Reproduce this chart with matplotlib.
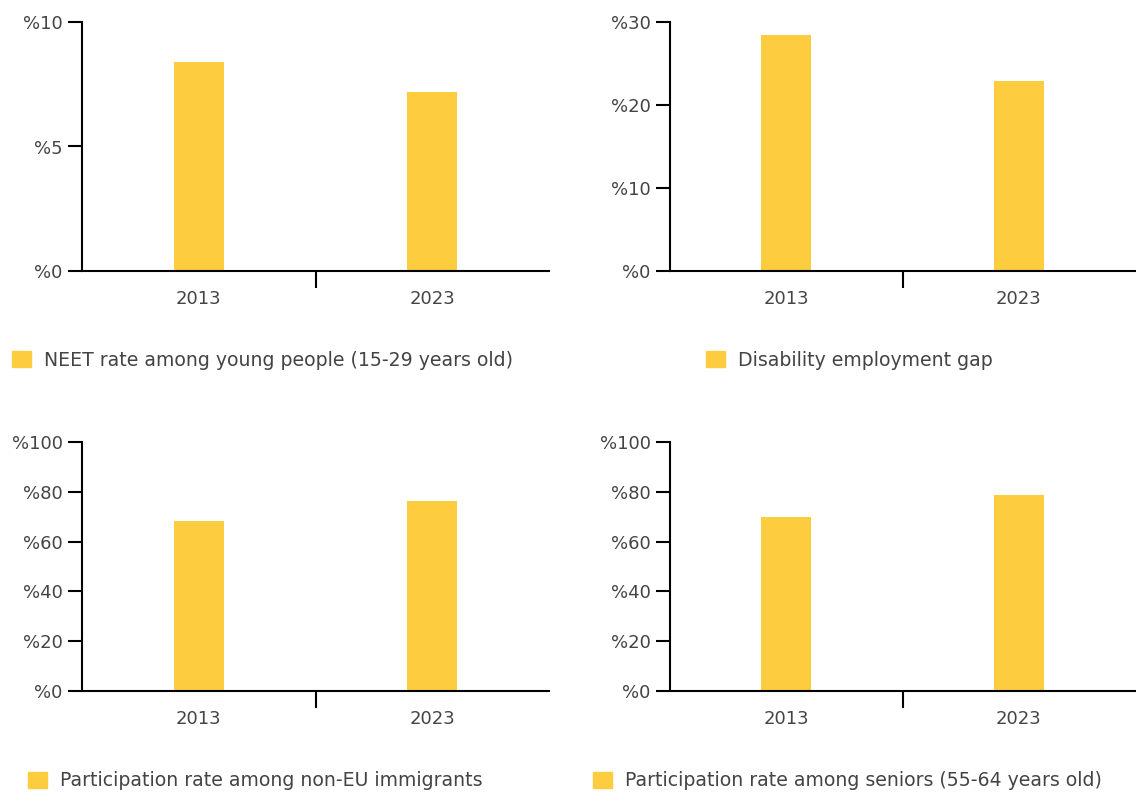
import matplotlib.pyplot as plt
from matplotlib.patches import Patch

plt.rcParams['font.family'] = ['DejaVu Sans']

years = ["2013", "2023"]
neet = [8.4, 7.2]
disability_gap = [28.4, 22.9]
non_eu = [68.3, 76.3]
seniors = [69.9, 78.7]

labels = [
    "NEET rate among young people (15-29 years old)",
    "Disability employment gap",
    "Participation rate among non-EU immigrants",
    "Participation rate among seniors (55-64 years old)",
]
series = [neet, disability_gap, non_eu, seniors]
yticks = [[0, 5, 10], [0, 10, 20, 30], [0, 20, 40, 60, 80, 100], [0, 20, 40, 60, 80, 100]]

bar_color = "#fdcd3f"
text_color = "#444444"

W, H = 1136, 792
fig = plt.figure(figsize=(W / 100, H / 100), dpi=100)

# axes boxes in pixels: left, right, top, bottom
boxes = [(82, 549, 22, 271), (670, 1135, 22, 271), (82, 549, 442, 691), (670, 1135, 442, 691)]
# legend anchor (left of square, centre y) in pixels
leg_pos = [(12, 360), (706, 360), (28, 781), (593, 781)]

for i in range(4):
    l, r, t, b = boxes[i]
    ax = fig.add_axes([l / W, 1 - b / H, (r - l) / W, (b - t) / H])
    x = range(len(years))
    ax.bar(x, series[i], width=0.215, color=bar_color)
    ax.set_xlim(-0.5, 1.5)
    ax.set_ylim(0, yticks[i][-1])
    ax.set_yticks(yticks[i])
    ax.set_yticklabels(["%" + str(v) for v in yticks[i]])
    ax.set_xticks([0.5])
    ax.set_xticklabels([""])
    ax.set_xticks([0, 1], minor=True)
    ax.set_xticklabels(years, minor=True)
    ax.tick_params(axis="x", which="minor", length=0, pad=14, labelsize=13, labelcolor=text_color)
    ax.tick_params(axis="x", which="major", length=12, width=1.5, color="black")
    ax.tick_params(axis="y", length=10, width=1.5, labelsize=13, labelcolor=text_color, pad=4)
    for s in ["top", "right"]:
        ax.spines[s].set_visible(False)
    for s in ["left", "bottom"]:
        ax.spines[s].set_linewidth(1.5)

    lx, ly = leg_pos[i]
    fig.legend(handles=[Patch(color=bar_color, label=labels[i])],
               loc="center left", bbox_to_anchor=(lx / W, 1 - ly / H),
               frameon=False, fontsize=13.6, labelcolor=text_color,
               handlelength=1.0, handleheight=1.0, handletextpad=0.72,
               borderpad=0, borderaxespad=0)

fig.savefig("out.png", dpi=100)
